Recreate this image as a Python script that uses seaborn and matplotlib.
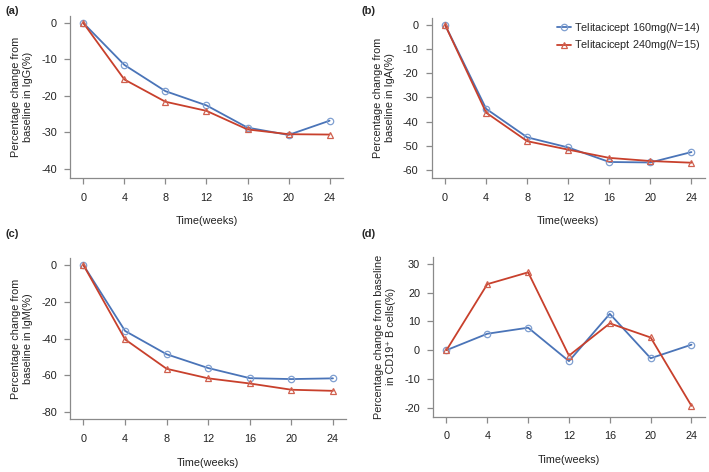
import numpy as np
import pandas as pd
import matplotlib
matplotlib.use("Agg")
import matplotlib.pyplot as plt
import seaborn as sns

# Данные
weeks = [0, 4, 8, 12, 16, 20, 24]
igg_160 = [0, -11.5, -18.7, -22.6, -28.7, -30.7, -26.8]
igg_240 = [0, -15.5, -21.6, -24.1, -29.2, -30.5, -30.6]
iga_160 = [0, -34.7, -46.5, -50.7, -56.7, -56.9, -52.6]
iga_240 = [0, -36.3, -48.1, -51.6, -55.0, -56.3, -57.0]
igm_160 = [0, -35.8, -48.5, -56.0, -61.5, -62.0, -61.6]
igm_240 = [0, -40.4, -56.4, -61.6, -64.4, -67.8, -68.4]
cd19_160 = [0, 5.7, 7.8, -3.8, 12.6, -2.8, 1.9]
cd19_240 = [0, 22.9, 27.0, -1.9, 9.3, 4.4, -19.3]

series_labels = ["Telitacicept 160mg($\\mathit{N}$=14)", "Telitacicept 240mg($\\mathit{N}$=15)"]
panel_tags = ["(a)", "(b)", "(c)", "(d)"]
ylabels = ["Percentage change from\nbaseline in IgG(%)",
           "Percentage change from\nbaseline in IgA(%)",
           "Percentage change from\nbaseline in IgM(%)",
           "Percentage change from baseline\nin CD19\u207a B cells(%)"]
yticks = [[0, -10, -20, -30, -40], [0, -10, -20, -30, -40, -50, -60],
          [0, -20, -40, -60, -80], [30, 20, 10, 0, -10, -20]]
ylims = [(-42.5, 1.9), (-63.3, 2.9), (-83.8, 3.8), (-23.1, 32.4)]
data = [(igg_160, igg_240), (iga_160, iga_240), (igm_160, igm_240), (cd19_160, cd19_240)]

sns.set_style("ticks")
plt.rcParams['font.family'] = ['Liberation Sans', 'DejaVu Sans']
plt.rcParams['mathtext.fontset'] = 'custom'
plt.rcParams['mathtext.rm'] = 'Liberation Sans'
plt.rcParams['mathtext.it'] = 'Liberation Sans:italic'
plt.rcParams['axes.unicode_minus'] = False

blue, blue_m = "#4a74b8", "#7f9fd0"
red, red_m = "#c8402c", "#d0604e"

fig = plt.figure(figsize=(7.09, 4.72), dpi=100)
positions = [[0.0987, 0.623, 0.385, 0.343],
             [0.609, 0.623, 0.385, 0.339],
             [0.0987, 0.112, 0.390, 0.341],
             [0.611, 0.117, 0.383, 0.339]]

for i in range(4):
    ax = fig.add_axes(positions[i])
    s160, s240 = data[i]
    sns.lineplot(x=weeks, y=s160, ax=ax, color=blue, lw=1.3, marker="o", ms=4.6,
                 mfc="none", mec=blue_m, mew=0.9, label=series_labels[0])
    sns.lineplot(x=weeks, y=s240, ax=ax, color=red, lw=1.3, marker="^", ms=4.6,
                 mfc="none", mec=red_m, mew=0.9, label=series_labels[1])
    ax.set_xlim(-1.3, 25.3)
    ax.set_ylim(*ylims[i])
    ax.set_xticks(weeks)
    ax.set_yticks(yticks[i])
    ax.set_xlabel("Time(weeks)", fontsize=7.8, labelpad=10, color="#222222")
    ax.set_ylabel(ylabels[i], fontsize=7.8, labelpad=6, color="#222222")
    for s in ["top", "right"]:
        ax.spines[s].set_visible(False)
    for s in ["left", "bottom"]:
        ax.spines[s].set_color("#8a8a8a")
        ax.spines[s].set_linewidth(0.9)
    ax.tick_params(axis="both", direction="out", length=4.5, width=0.9, color="#8a8a8a",
                   labelsize=7.8, labelcolor="#222222", pad=5)
    ax.tick_params(axis="x", pad=6)
    if i == 1:
        ax.legend(loc="upper right", frameon=False, fontsize=7.8, handlelength=1.3,
                  handletextpad=0.3, borderaxespad=0.0, labelspacing=0.35,
                  bbox_to_anchor=(1.0, 1.01))
    else:
        ax.get_legend().remove()

tag_pos = [(0.008, 0.988), (0.51, 0.988), (0.008, 0.515), (0.51, 0.515)]
for tag, (x, y) in zip(panel_tags, tag_pos):
    fig.text(x, y, tag, fontsize=8, fontweight="bold", va="top", ha="left")

plt.savefig("out.png", dpi=100)
